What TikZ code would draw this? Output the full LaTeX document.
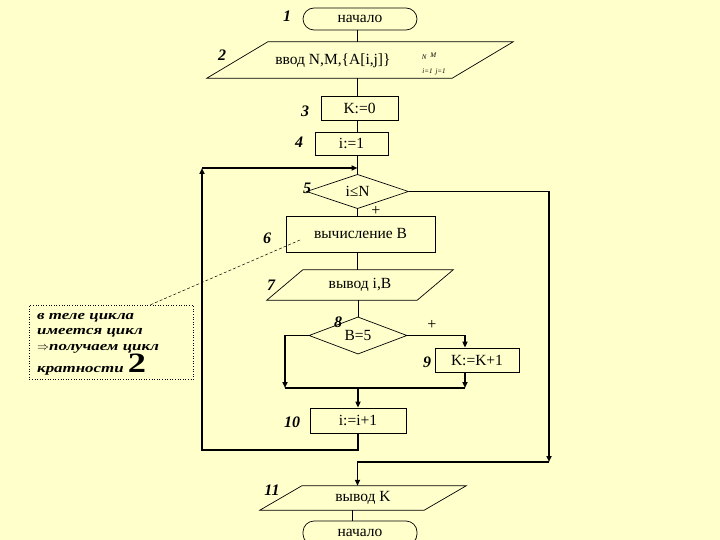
\documentclass[tikz,border=0pt]{standalone}
\usepackage{fontspec}
\setmainfont{Liberation Serif}
\newfontfamily\notefont[FakeStretch=1.3]{Liberation Serif}
\usetikzlibrary{shapes.geometric,arrows.meta,calc}
\definecolor{bg}{RGB}{255,255,204}
\newcommand\paral[2]{\draw[shp] ([xshift=-#2]#1.south west) -- ([xshift=-#2]#1.south east) -- ([xshift=#2]#1.north east) -- ([xshift=#2]#1.north west) -- cycle;}
\begin{document}
\begin{tikzpicture}[x=1pt,y=-1pt,
  every node/.style={font=\fontsize{15.5}{18}\selectfont, inner sep=0pt},
  shp/.style={draw, line width=0.7pt},
  proc/.style={shp, rectangle},
  term/.style={shp, rectangle, rounded corners=11pt},
  dec/.style={shp, diamond},
  io/.style={rectangle},
  lbl/.style={font=\fontsize{16}{18}\selectfont\bfseries\itshape},
  notetxt/.style={anchor=north west, align=left, font=\notefont\fontsize{13}{15.5}\selectfont\bfseries\itshape},
  flow/.style={line width=0.8pt},
  thk/.style={line width=1.6pt},
  arr/.style={-{Triangle[length=6pt,width=5pt]}}]
\useasboundingbox (0,0) rectangle (720,540);
\clip (0,0) rectangle (720,540);
\fill[bg] (0,0) rectangle (720,540);

% nodes
\node[term, minimum width=114pt, minimum height=22pt] (t1) at (360,19) {начало};
\node[io, minimum width=245pt, minimum height=36pt] (p2) at (360,60) {};
\paral{p2}{30.5}
\node (t2) at (333,61) {ввод N,M,\{A[i,j]\}};
\node[font=\fontsize{7}{8}\selectfont\itshape] (s2a) at (429,56) {N\hspace{4pt}\raisebox{2pt}{M}};
\node[font=\fontsize{7}{8}\selectfont\itshape] (s2b) at (434,72) {i=1\hspace{3pt}j=1};
\node[proc, minimum width=77pt, minimum height=24pt] (b3) at (359.5,108) {K:=0};
\node[proc, minimum width=73pt, minimum height=23pt] (b4) at (351.5,143.5) {i:=1};
\node[dec, minimum width=102pt, minimum height=33pt] (d5) at (357.5,191.5) {i≤N};
\node[proc, minimum width=149pt, minimum height=36pt] (b6) at (360.5,234) {вычисление B};
\node[io, minimum width=150pt, minimum height=30pt] (p7) at (360,285) {вывод i,B};
\paral{p7}{18}
\node[dec, minimum width=98pt, minimum height=35pt] (d8) at (358,335.5) {B=5};
\node[proc, minimum width=84pt, minimum height=24pt] (b9) at (477,360) {K:=K+1};
\node[proc, minimum width=96pt, minimum height=25pt] (b10) at (358,420.5) {i:=i+1};
\node[io, minimum width=164pt, minimum height=24pt] (p11) at (363,498) {вывод K};
\paral{p11}{21}
\node[term, minimum width=114pt, minimum height=24pt] (t12) at (360,533) {начало};

% labels
\node[lbl] (l1) at (287,16) {1};
\node[lbl] (l2) at (222,55) {2};
\node[lbl] (l3) at (305,111) {3};
\node[lbl] (l4) at (299,142) {4};
\node[lbl] (l5) at (307,188) {5};
\node[lbl] (l6) at (267,238) {6};
\node[lbl] (l7) at (271,285) {7};
\node[lbl] (l8) at (338,322) {8};
\node[lbl] (l9) at (427,362) {9};
\node[lbl] (l10) at (292,422) {10};
\node[lbl] (l11) at (272,490) {11};
\node[font=\fontsize{16}{18}\selectfont] (pl5) at (376,211) {+};
\node[font=\fontsize{16}{18}\selectfont] (pl8) at (432,325) {+};

% note
\node[draw, dotted, line width=0.6pt, minimum width=164pt, minimum height=74pt, anchor=north west] (note) at (29,305) {};
\node[notetxt] (nt) at (37,313) {в теле цикла\\имеется цикл\\$\Rightarrow$получаем цикл\\кратности {\fontsize{28}{28}\selectfont\upshape 2}};
\coordinate (dstart) at (300,240);
\coordinate (dend) at (150,305);
\draw[dash pattern=on 3pt off 2pt, line width=0.5pt] (dstart) -- (dend);

% connectors
\coordinate (ax) at (357.5,0);
\coordinate (ax2) at (352,0);
\draw[flow] (t1.south -| ax) -- (p2.north -| ax);
\draw[flow] (p2.south -| ax) -- (b3.north -| ax);
\draw[flow] (b3.south -| ax) -- (b4.north -| ax);
\draw[flow] (b4.south -| ax) -- (d5.north);
\draw[flow] (d5.south) -- (b6.north -| d5.south);
\draw[flow] (b6.south -| ax) -- (p7.north -| ax);
\draw[flow] (p7.south -| d8.north) -- (d8.north);

\coordinate (ml) at (285,388);
\coordinate (mr) at (465,388);
\draw[thk, arr] (d8.west) -| (ml);
\draw[thk, arr] (d8.east) -| (b9.north -| mr);
\draw[thk, arr] (b9.south -| mr) -- (mr);
\draw[thk] (ml) -- (mr);
\draw[thk, arr] (ml -| b10.north) -- (b10.north);

\coordinate (lb) at (202,450);
\coordinate (lt) at (202,168);
\draw[thk, arr] (b10.south) |- (lb) -- (lt);
\draw[thk, arr] (lt) -- (lt -| ax);

\coordinate (rt) at (549,191.5);
\coordinate (rb) at (549,462);
\draw[flow] (d5.east) -- (rt);
\draw[thk, arr] (rt) -- (rb);
\draw[thk, arr] (rb) -| (p11.north -| ax);
\draw[flow] (p11.south -| ax2) -- (t12.north -| ax2);
\end{tikzpicture}
\end{document}
